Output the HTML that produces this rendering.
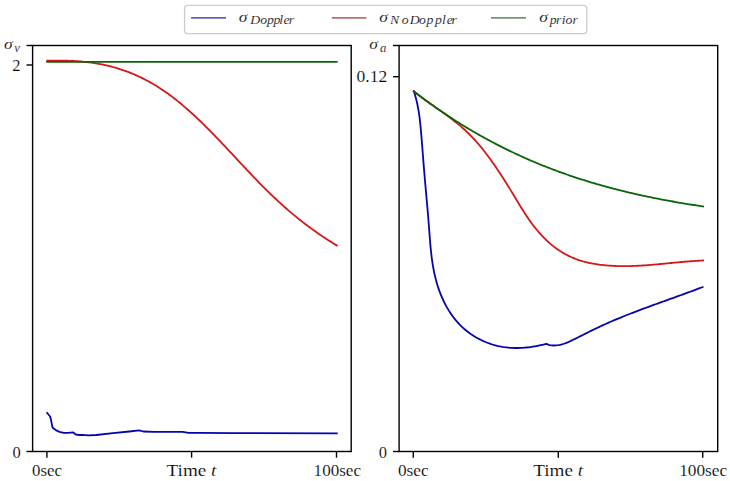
<!DOCTYPE html>
<html><head><meta charset="utf-8"><style>
html,body{margin:0;padding:0;background:#fff;}
body{width:730px;height:481px;overflow:hidden;}
svg{display:block;font-family:"Liberation Serif",serif;}
</style></head><body>
<svg width="730" height="481" viewBox="0 0 730 481">
<rect width="730" height="481" fill="#fff"/>
<rect x="32.6" y="45.5" width="318.6" height="406" fill="none" stroke="#000" stroke-width="1.4"/>
<rect x="399.1" y="45.5" width="318.6" height="406" fill="none" stroke="#000" stroke-width="1.4"/>
<line x1="26.5" y1="45.5" x2="32.6" y2="45.5" stroke="#000" stroke-width="1.4"/>
<line x1="26.5" y1="65.0" x2="32.6" y2="65.0" stroke="#000" stroke-width="1.4"/>
<line x1="26.5" y1="451.5" x2="32.6" y2="451.5" stroke="#000" stroke-width="1.4"/>
<line x1="393.0" y1="45.5" x2="399.1" y2="45.5" stroke="#000" stroke-width="1.4"/>
<line x1="393.0" y1="76.7" x2="399.1" y2="76.7" stroke="#000" stroke-width="1.4"/>
<line x1="393.0" y1="451.5" x2="399.1" y2="451.5" stroke="#000" stroke-width="1.4"/>
<line x1="46.9" y1="451.5" x2="46.9" y2="457.7" stroke="#000" stroke-width="1.4"/>
<line x1="191.6" y1="451.5" x2="191.6" y2="457.7" stroke="#000" stroke-width="1.4"/>
<line x1="336.5" y1="451.5" x2="336.5" y2="457.7" stroke="#000" stroke-width="1.4"/>
<line x1="413.3" y1="451.5" x2="413.3" y2="457.7" stroke="#000" stroke-width="1.4"/>
<line x1="558.3" y1="451.5" x2="558.3" y2="457.7" stroke="#000" stroke-width="1.4"/>
<line x1="702.7" y1="451.5" x2="702.7" y2="457.7" stroke="#000" stroke-width="1.4"/>
<polyline points="46.50,412.30 47.80,413.70 50.10,416.50 51.10,420.30 52.20,426.10 52.90,428.10 55.80,430.10 59.50,431.90 63.80,432.90 68.20,432.90 72.90,432.30 75.80,434.50 79.10,435.00 82.00,434.90 88.20,435.40 96.40,435.00 112.90,433.20 129.30,431.50 139.20,430.40 143.30,431.50 154.00,431.80 170.40,431.80 182.70,431.80 188.50,432.80 200.00,432.90 235.00,433.10 337.70,433.40" fill="none" stroke="#0505b0" stroke-width="1.8" stroke-linejoin="round" stroke-linecap="butt"/>
<polyline points="46.30,60.75 47.80,60.71 49.30,60.68 50.80,60.65 52.30,60.63 53.80,60.61 55.30,60.60 56.80,60.59 58.30,60.59 59.80,60.59 61.30,60.61 62.80,60.63 64.30,60.65 65.80,60.69 67.30,60.73 68.80,60.78 70.30,60.84 71.80,60.91 73.30,60.98 74.80,61.07 76.30,61.16 77.80,61.26 79.30,61.38 80.80,61.50 82.30,61.63 83.80,61.78 85.30,61.93 86.80,62.10 88.30,62.27 89.80,62.46 91.30,62.66 92.80,62.88 94.30,63.10 95.80,63.34 97.30,63.59 98.80,63.85 100.30,64.12 101.80,64.41 103.30,64.72 104.80,65.04 106.30,65.37 107.80,65.71 109.30,66.07 110.80,66.45 112.30,66.84 113.80,67.25 115.30,67.67 116.80,68.11 118.30,68.56 119.80,69.03 121.30,69.52 122.80,70.03 124.30,70.55 125.80,71.08 127.30,71.64 128.80,72.21 130.30,72.80 131.80,73.41 133.30,74.03 134.80,74.67 136.30,75.34 137.80,76.01 139.30,76.71 140.80,77.42 142.30,78.16 143.80,78.91 145.30,79.68 146.80,80.47 148.30,81.27 149.80,82.10 151.30,82.95 152.80,83.81 154.30,84.70 155.80,85.60 157.30,86.53 158.80,87.47 160.30,88.43 161.80,89.42 163.30,90.42 164.80,91.45 166.30,92.49 167.80,93.56 169.30,94.65 170.80,95.75 172.30,96.88 173.80,98.03 175.30,99.20 176.80,100.38 178.30,101.59 179.80,102.81 181.30,104.06 182.80,105.32 184.30,106.60 185.80,107.89 187.30,109.20 188.80,110.53 190.30,111.88 191.80,113.24 193.30,114.61 194.80,116.00 196.30,117.41 197.80,118.82 199.30,120.26 200.80,121.70 202.30,123.16 203.80,124.63 205.30,126.12 206.80,127.61 208.30,129.12 209.80,130.64 211.30,132.16 212.80,133.70 214.30,135.24 215.80,136.79 217.30,138.35 218.80,139.92 220.30,141.49 221.80,143.07 223.30,144.65 224.80,146.24 226.30,147.83 227.80,149.43 229.30,151.03 230.80,152.63 232.30,154.23 233.80,155.84 235.30,157.45 236.80,159.05 238.30,160.66 239.80,162.26 241.30,163.87 242.80,165.47 244.30,167.07 245.80,168.67 247.30,170.26 248.80,171.85 250.30,173.44 251.80,175.01 253.30,176.59 254.80,178.15 256.30,179.71 257.80,181.26 259.30,182.80 260.80,184.33 262.30,185.86 263.80,187.37 265.30,188.87 266.80,190.35 268.30,191.83 269.80,193.29 271.30,194.74 272.80,196.18 274.30,197.61 275.80,199.02 277.30,200.42 278.80,201.81 280.30,203.18 281.80,204.54 283.30,205.89 284.80,207.22 286.30,208.54 287.80,209.84 289.30,211.14 290.80,212.41 292.30,213.68 293.80,214.93 295.30,216.16 296.80,217.38 298.30,218.59 299.80,219.79 301.30,220.97 302.80,222.14 304.30,223.29 305.80,224.44 307.30,225.57 308.80,226.68 310.30,227.79 311.80,228.88 313.30,229.96 314.80,231.03 316.30,232.09 317.80,233.14 319.30,234.17 320.80,235.20 322.30,236.21 323.80,237.21 325.30,238.21 326.80,239.19 328.30,240.16 329.80,241.12 331.30,242.07 332.80,243.01 334.30,243.94 335.80,244.86 337.30,245.77 337.70,246.01" fill="none" stroke="#d81616" stroke-width="1.8" stroke-linejoin="round" stroke-linecap="butt"/>
<polyline points="46.30,61.80 337.70,61.80" fill="none" stroke="#086608" stroke-width="1.8" stroke-linejoin="round" stroke-linecap="butt"/>
<polyline points="413.55,90.43 414.20,92.35 414.80,94.28 415.37,96.21 415.90,98.16 416.40,100.11 416.86,102.07 417.29,104.03 417.70,106.01 418.07,107.99 418.42,109.97 418.75,111.96 419.05,113.95 419.33,115.95 419.60,117.95 419.84,119.96 420.07,121.97 420.29,123.98 420.49,125.99 420.69,128.01 420.87,130.03 421.05,132.05 421.22,134.07 421.39,136.09 421.56,138.11 421.72,140.12 421.89,142.14 422.05,144.16 422.21,146.18 422.37,148.20 422.53,150.22 422.68,152.24 422.84,154.26 423.00,156.28 423.15,158.30 423.31,160.32 423.47,162.33 423.63,164.35 423.79,166.37 423.95,168.38 424.12,170.40 424.29,172.42 424.45,174.43 424.63,176.44 424.80,178.46 424.97,180.47 425.15,182.48 425.33,184.50 425.51,186.51 425.69,188.52 425.87,190.53 426.05,192.55 426.23,194.56 426.41,196.57 426.59,198.58 426.77,200.59 426.95,202.61 427.13,204.62 427.31,206.63 427.48,208.65 427.66,210.66 427.83,212.68 428.00,214.69 428.17,216.71 428.34,218.72 428.50,220.74 428.66,222.76 428.81,224.78 428.97,226.80 429.12,228.82 429.27,230.84 429.42,232.86 429.57,234.88 429.72,236.90 429.88,238.93 430.04,240.95 430.21,242.97 430.39,244.98 430.57,247.00 430.77,249.02 430.97,251.03 431.19,253.04 431.42,255.05 431.66,257.05 431.92,259.06 432.20,261.06 432.50,263.05 432.81,265.05 433.15,267.04 433.51,269.02 433.89,271.00 434.30,272.98 434.73,274.95 435.18,276.92 435.67,278.88 436.19,280.84 436.73,282.79 437.31,284.73 437.92,286.67 438.56,288.60 439.23,290.52 439.94,292.43 440.68,294.32 441.45,296.20 442.26,298.07 443.10,299.92 443.97,301.76 444.88,303.57 445.83,305.37 446.80,307.14 447.82,308.89 448.87,310.62 449.96,312.32 451.08,313.99 452.24,315.64 453.43,317.26 454.66,318.84 455.93,320.40 457.24,321.92 458.59,323.41 459.97,324.86 461.39,326.28 462.85,327.66 464.35,328.99 465.89,330.29 467.46,331.55 469.07,332.76 470.71,333.94 472.38,335.07 474.08,336.15 475.81,337.20 477.57,338.20 479.35,339.15 481.16,340.06 482.99,340.92 484.85,341.74 486.72,342.50 488.62,343.22 490.53,343.89 492.46,344.51 494.41,345.08 496.37,345.60 498.34,346.07 500.32,346.48 502.31,346.84 504.32,347.15 506.32,347.41 508.34,347.63 510.36,347.79 512.39,347.91 514.42,347.98 516.45,348.00 518.48,347.98 520.51,347.92 522.54,347.82 524.57,347.68 526.60,347.50 528.62,347.28 530.63,347.02 532.64,346.73 534.64,346.40 536.63,346.04 538.60,345.65 540.57,345.22 542.53,344.77 544.47,344.28 546.39,343.77 549.40,345.10 553.91,345.50 555.97,345.42 558.00,345.20 559.99,344.83 561.95,344.35 563.87,343.75 565.78,343.07 567.66,342.31 569.52,341.50 571.37,340.64 573.21,339.75 575.05,338.85 576.88,337.95 578.71,337.03 580.53,336.12 582.36,335.20 584.18,334.28 586.01,333.36 587.83,332.45 589.66,331.54 591.48,330.63 593.31,329.73 595.15,328.84 596.99,327.96 598.83,327.09 600.68,326.23 602.53,325.37 604.39,324.53 606.25,323.70 608.11,322.87 609.98,322.05 611.85,321.24 613.72,320.44 615.60,319.65 617.48,318.86 619.36,318.08 621.25,317.31 623.14,316.54 625.03,315.78 626.92,315.03 628.82,314.28 630.72,313.53 632.62,312.80 634.52,312.06 636.43,311.33 638.33,310.61 640.24,309.89 642.15,309.17 644.07,308.46 645.98,307.75 647.89,307.05 649.81,306.34 651.73,305.64 653.65,304.94 655.57,304.25 657.48,303.55 659.41,302.86 661.33,302.17 663.25,301.48 665.17,300.79 667.09,300.10 669.01,299.41 670.93,298.72 672.85,298.03 674.78,297.34 676.70,296.65 678.62,295.95 680.53,295.26 682.45,294.57 684.37,293.87 686.29,293.17 688.20,292.47 690.12,291.76 692.03,291.06 693.94,290.35 695.85,289.63 697.76,288.91 699.66,288.19 701.57,287.47 703.47,286.74" fill="none" stroke="#0505b0" stroke-width="1.8" stroke-linejoin="round" stroke-linecap="butt"/>
<polyline points="413.10,90.56 414.60,91.80 416.10,93.02 417.60,94.22 419.10,95.39 420.60,96.55 422.10,97.68 423.60,98.80 425.10,99.91 426.60,101.00 428.10,102.08 429.60,103.16 431.10,104.22 432.60,105.28 434.10,106.34 435.60,107.39 437.10,108.44 438.60,109.50 440.10,110.55 441.60,111.62 443.10,112.68 444.60,113.76 446.10,114.85 447.60,115.95 449.10,117.06 450.60,118.18 452.10,119.33 453.60,120.49 455.10,121.67 456.60,122.88 458.10,124.10 459.60,125.36 461.10,126.64 462.60,127.95 464.10,129.29 465.60,130.67 467.10,132.07 468.60,133.52 470.10,135.00 471.60,136.52 473.10,138.09 474.60,139.69 476.10,141.34 477.60,143.04 479.10,144.78 480.60,146.58 482.10,148.41 483.60,150.29 485.10,152.21 486.60,154.18 488.10,156.18 489.60,158.22 491.10,160.29 492.60,162.40 494.10,164.55 495.60,166.73 497.10,168.94 498.60,171.18 500.10,173.46 501.60,175.76 503.10,178.09 504.60,180.44 506.10,182.82 507.60,185.22 509.10,187.65 510.60,190.10 512.10,192.56 513.60,195.05 515.10,197.54 516.60,200.04 518.10,202.52 519.60,204.99 521.10,207.44 522.60,209.85 524.10,212.22 525.60,214.55 527.10,216.81 528.60,219.01 530.10,221.14 531.60,223.20 533.10,225.20 534.60,227.13 536.10,228.99 537.60,230.80 539.10,232.54 540.60,234.22 542.10,235.83 543.60,237.40 545.10,238.90 546.60,240.35 548.10,241.74 549.60,243.08 551.10,244.36 552.60,245.60 554.10,246.78 555.60,247.92 557.10,249.00 558.60,250.04 560.10,251.04 561.60,251.99 563.10,252.89 564.60,253.76 566.10,254.58 567.60,255.36 569.10,256.10 570.60,256.81 572.10,257.48 573.60,258.11 575.10,258.71 576.60,259.28 578.10,259.81 579.60,260.32 581.10,260.79 582.60,261.24 584.10,261.66 585.60,262.05 587.10,262.42 588.60,262.76 590.10,263.08 591.60,263.38 593.10,263.66 594.60,263.92 596.10,264.16 597.60,264.39 599.10,264.60 600.60,264.79 602.10,264.97 603.60,265.14 605.10,265.29 606.60,265.43 608.10,265.56 609.60,265.67 611.10,265.77 612.60,265.85 614.10,265.93 615.60,265.99 617.10,266.04 618.60,266.09 620.10,266.12 621.60,266.14 623.10,266.15 624.60,266.14 626.10,266.14 627.60,266.12 629.10,266.09 630.60,266.05 632.10,266.01 633.60,265.95 635.10,265.89 636.60,265.83 638.10,265.75 639.60,265.67 641.10,265.59 642.60,265.49 644.10,265.39 645.60,265.29 647.10,265.18 648.60,265.07 650.10,264.95 651.60,264.82 653.10,264.70 654.60,264.57 656.10,264.44 657.60,264.30 659.10,264.16 660.60,264.02 662.10,263.88 663.60,263.74 665.10,263.59 666.60,263.45 668.10,263.30 669.60,263.15 671.10,263.01 672.60,262.86 674.10,262.71 675.60,262.57 677.10,262.43 678.60,262.28 680.10,262.14 681.60,262.01 683.10,261.87 684.60,261.74 686.10,261.61 687.60,261.49 689.10,261.37 690.60,261.25 692.10,261.14 693.60,261.03 695.10,260.93 696.60,260.83 698.10,260.74 699.60,260.65 701.10,260.57 702.60,260.50 704.00,260.44" fill="none" stroke="#d81616" stroke-width="1.8" stroke-linejoin="round" stroke-linecap="butt"/>
<polyline points="413.10,90.88 414.60,92.03 416.10,93.18 417.60,94.32 419.10,95.46 420.60,96.59 422.10,97.70 423.60,98.82 425.10,99.92 426.60,101.02 428.10,102.10 429.60,103.19 431.10,104.26 432.60,105.33 434.10,106.38 435.60,107.44 437.10,108.48 438.60,109.52 440.10,110.55 441.60,111.57 443.10,112.59 444.60,113.59 446.10,114.60 447.60,115.59 449.10,116.58 450.60,117.56 452.10,118.53 453.60,119.50 455.10,120.45 456.60,121.41 458.10,122.35 459.60,123.29 461.10,124.22 462.60,125.15 464.10,126.06 465.60,126.98 467.10,127.88 468.60,128.78 470.10,129.67 471.60,130.55 473.10,131.43 474.60,132.30 476.10,133.17 477.60,134.03 479.10,134.88 480.60,135.72 482.10,136.56 483.60,137.39 485.10,138.22 486.60,139.04 488.10,139.85 489.60,140.66 491.10,141.46 492.60,142.26 494.10,143.05 495.60,143.83 497.10,144.61 498.60,145.38 500.10,146.14 501.60,146.90 503.10,147.65 504.60,148.40 506.10,149.14 507.60,149.87 509.10,150.60 510.60,151.33 512.10,152.04 513.60,152.75 515.10,153.46 516.60,154.16 518.10,154.85 519.60,155.54 521.10,156.22 522.60,156.90 524.10,157.57 525.60,158.24 527.10,158.90 528.60,159.56 530.10,160.21 531.60,160.85 533.10,161.49 534.60,162.12 536.10,162.75 537.60,163.37 539.10,163.99 540.60,164.60 542.10,165.21 543.60,165.81 545.10,166.41 546.60,167.00 548.10,167.59 549.60,168.17 551.10,168.75 552.60,169.32 554.10,169.88 555.60,170.45 557.10,171.00 558.60,171.55 560.10,172.10 561.60,172.64 563.10,173.18 564.60,173.71 566.10,174.24 567.60,174.76 569.10,175.28 570.60,175.80 572.10,176.31 573.60,176.81 575.10,177.31 576.60,177.81 578.10,178.30 579.60,178.78 581.10,179.27 582.60,179.74 584.10,180.22 585.60,180.69 587.10,181.15 588.60,181.61 590.10,182.07 591.60,182.52 593.10,182.97 594.60,183.41 596.10,183.85 597.60,184.29 599.10,184.72 600.60,185.14 602.10,185.57 603.60,185.99 605.10,186.40 606.60,186.81 608.10,187.22 609.60,187.63 611.10,188.03 612.60,188.42 614.10,188.81 615.60,189.20 617.10,189.59 618.60,189.97 620.10,190.35 621.60,190.72 623.10,191.09 624.60,191.46 626.10,191.82 627.60,192.18 629.10,192.54 630.60,192.89 632.10,193.24 633.60,193.58 635.10,193.93 636.60,194.27 638.10,194.60 639.60,194.94 641.10,195.26 642.60,195.59 644.10,195.91 645.60,196.23 647.10,196.55 648.60,196.86 650.10,197.18 651.60,197.48 653.10,197.79 654.60,198.09 656.10,198.39 657.60,198.68 659.10,198.98 660.60,199.27 662.10,199.56 663.60,199.84 665.10,200.12 666.60,200.40 668.10,200.68 669.60,200.95 671.10,201.22 672.60,201.49 674.10,201.76 675.60,202.02 677.10,202.28 678.60,202.54 680.10,202.80 681.60,203.05 683.10,203.30 684.60,203.55 686.10,203.80 687.60,204.04 689.10,204.28 690.60,204.52 692.10,204.76 693.60,205.00 695.10,205.23 696.60,205.46 698.10,205.69 699.60,205.92 701.10,206.14 702.60,206.36 704.00,206.57" fill="none" stroke="#086608" stroke-width="1.8" stroke-linejoin="round" stroke-linecap="butt"/>
<rect x="184.6" y="5.3" width="402.2" height="28.3" rx="3" ry="3" fill="#fff" stroke="#cdcdcd" stroke-width="1.35"/>
<line x1="191" y1="17.9" x2="226" y2="17.9" stroke="#6262b2" stroke-width="1.8"/>
<line x1="331.8" y1="17.9" x2="366.4" y2="17.9" stroke="#c06c6c" stroke-width="1.8"/>
<line x1="491" y1="17.9" x2="526" y2="17.9" stroke="#6c9a6c" stroke-width="1.8"/>
<g fill="#000" stroke="#fff" stroke-width="0.15" paint-order="fill stroke">
<text x="32.0" y="475.8" font-size="16.5" textLength="30.00" lengthAdjust="spacingAndGlyphs">0sec</text>
<text x="166.6" y="475.8" font-size="16.5" textLength="49.80" lengthAdjust="spacingAndGlyphs">Time <tspan font-style="italic">t</tspan></text>
<text x="313.6" y="475.8" font-size="16.5" textLength="47.40" lengthAdjust="spacingAndGlyphs">100sec</text>
<text x="398.0" y="475.8" font-size="16.5" textLength="30.60" lengthAdjust="spacingAndGlyphs">0sec</text>
<text x="533.2" y="475.8" font-size="16.5" textLength="49.80" lengthAdjust="spacingAndGlyphs">Time <tspan font-style="italic">t</tspan></text>
<text x="679.2" y="475.8" font-size="16.5" textLength="48.00" lengthAdjust="spacingAndGlyphs">100sec</text>
<text x="20.5" y="71.0" text-anchor="end" font-size="16.5" >2</text>
<text x="20.7" y="457.5" text-anchor="end" font-size="16.5" >0</text>
<text x="356.5" y="82.0" font-size="16.5" textLength="30.70" lengthAdjust="spacingAndGlyphs">0.12</text>
<text x="386.9" y="457.5" text-anchor="end" font-size="16.5" >0</text>
<text transform="translate(4.07,49.3) scale(1.22,1)" x="0.00" y="0" font-size="14.5" font-style="italic">σ</text>
<text transform="translate(14.13,51.8) scale(1.1,1)" x="0.00" y="0" font-size="11.5" font-style="italic">v</text>
<text transform="translate(369.27,49.0) scale(1.22,1)" x="0.00" y="0" font-size="14.5" font-style="italic">σ</text>
<text transform="translate(379.92,51.8) scale(1.1,1)" x="0.00" y="0" font-size="11.5" font-style="italic">a</text>
<text transform="translate(238.77,21.6) scale(1.22,1)" x="0.00" y="0" font-size="14.5" font-style="italic">σ</text>
<text transform="translate(250.25,23.9) scale(1.2,1)" x="0.00 8.44 13.96 19.46 24.18 27.77 32.07" y="0" font-size="11.5" font-style="italic">Doppler</text>
<text transform="translate(379.37,21.6) scale(1.22,1)" x="0.00" y="0" font-size="14.5" font-style="italic">σ</text>
<text transform="translate(390.10,23.9) scale(1.2,1)" x="0.00 9.66 16.29 24.07 30.26 37.42 43.30 47.15 51.20" y="0" font-size="11.5" font-style="italic">NoDoppler</text>
<text transform="translate(539.37,21.6) scale(1.22,1)" x="0.00" y="0" font-size="14.5" font-style="italic">σ</text>
<text transform="translate(549.71,24.1) scale(1.2,1)" x="0.00 5.19 10.02 13.15 18.94" y="0" font-size="11.5" font-style="italic">prior</text>
</g>
</svg>
</body></html>
